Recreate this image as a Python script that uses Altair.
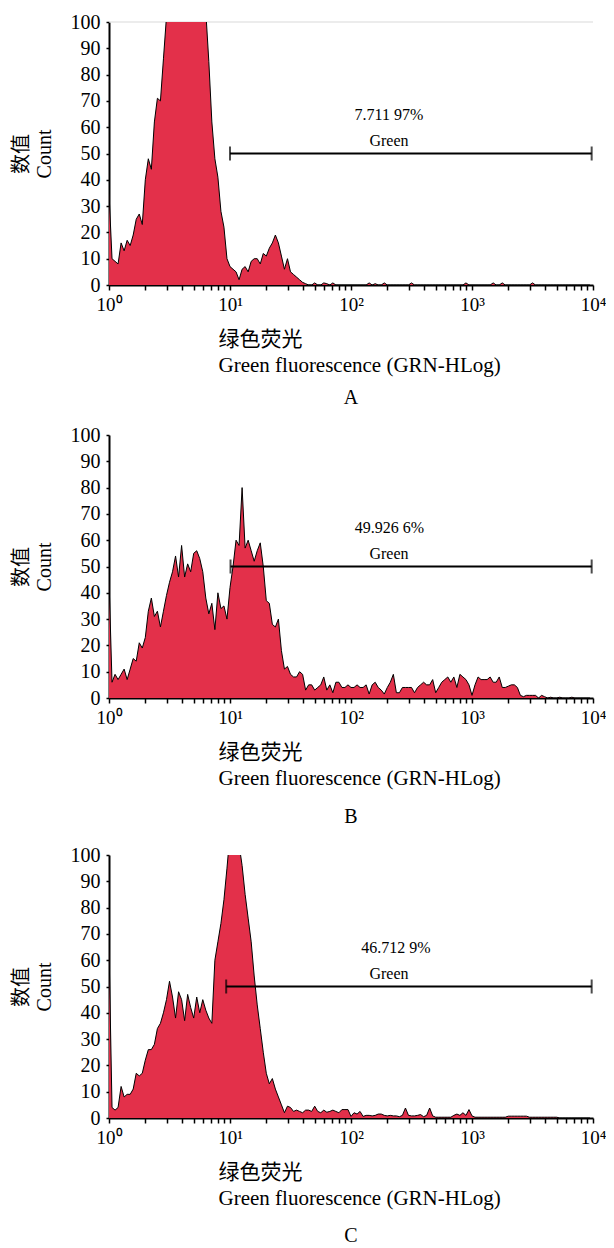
import altair as alt
import pandas as pd

# ---------------- data ----------------
STEP = 0.025  # decades per histogram channel, channel 0 starts at 10^0

counts_a = [
    35, 10, 9, 8, 16, 13, 17, 15, 19, 25,
    27, 23, 40, 48, 44, 62, 71, 70, 86, 102,
    115, 125, 135, 140, 145, 148, 150, 148, 145, 140,
    130, 120, 104, 85, 62, 48, 41, 28, 22, 10,
    7, 6, 5, 2, 6, 7, 5, 9, 10, 10,
    8, 12, 11, 14, 16, 19, 16, 11, 6, 10,
    5, 4, 3, 2, 1, 0.5, 0, 0, 0.8, 0,
    0, 0.8, 0.5, 0, 0.8, 0, 0, 0, 0, 0,
    0, 0, 0, 0, 0, 0, 0.8, 0, 0.5, 0,
    0, 0.8, 0, 0, 0, 0, 0, 0, 0, 0,
    0.8, 0, 0, 0, 0, 0, 0, 0, 0, 0,
    0, 0, 0, 0, 0, 0, 0, 0, 0.8, 0,
    0, 0, 0, 0, 0, 0, 0, 0.8, 0, 0,
    0.8, 0, 0, 0, 0, 0, 0, 0, 0, 0,
    0.8, 0, 0, 0, 0, 0, 0, 0, 0, 0,
    0, 0, 0, 0, 0, 0, 0, 0, 0, 0,
]

counts_b = [
    45, 6, 9, 7, 9, 11, 7, 11, 15, 14,
    21, 19, 23, 33, 38, 31, 33, 27, 33, 39,
    44, 48, 54, 46, 58, 46, 51, 48, 55, 56,
    53, 48, 38, 32, 36, 26, 40, 34, 35, 30,
    42, 50, 60, 58, 80, 57, 60, 56, 52, 56,
    59, 50, 37, 36, 28, 27, 30, 18, 11, 12,
    9, 8, 8, 10, 9, 3, 5, 5, 3, 4,
    5, 8, 3, 5, 2, 6, 6, 4, 4, 5,
    4, 4, 5, 4, 4, 5, 1.5, 5, 6, 4,
    3, 1.5, 4, 6, 9, 2, 2, 4, 4, 4,
    4, 2, 4, 5, 6, 5, 5, 7, 2, 4,
    6, 7, 8, 6, 8, 4, 9, 8, 7, 5,
    1, 5, 8, 7, 7, 7, 8, 6, 6, 8,
    4, 4, 4.5, 5, 5, 4, 1, 0.5, 1, 1,
    1, 1, 0, 1, 0.5, 0, 0.3, 0, 0, 0.3,
    0, 0, 0, 0.3, 0, 0, 0, 0, 0, 0,
]

counts_c = [
    65, 4, 3, 4, 12, 8, 9, 9, 11, 17,
    16, 17, 22, 26, 26, 28, 34, 36, 40, 45,
    52, 46, 38, 48, 45, 37, 47, 42, 38, 46,
    40, 45, 41, 38, 36, 60, 67, 74, 83, 95,
    108, 115, 112, 104, 96, 85, 76, 67, 54, 43,
    34, 25, 17, 13, 15, 11, 8, 5, 2, 4.5,
    4, 2.5, 3, 2.5, 2, 3, 3, 2.5, 4.5, 2.5,
    2, 3, 2.2, 2.5, 3, 2.5, 2, 3.2, 3.2, 3.2,
    0.6, 2, 1.5, 2.5, 0.6, 1, 1, 0.8, 1, 1.5,
    1.5, 1, 0.8, 1, 0.8, 0.8, 0.5, 1, 3.8, 1,
    0.8, 0.8, 1, 1.3, 0.5, 1, 3.8, 0.8, 0.3, 0.3,
    0.3, 0.3, 0.3, 0.3, 1, 1.5, 1, 2, 1, 3.2,
    0.8, 0.3, 0.3, 0.3, 0.3, 0.3, 0.3, 0.3, 0.3, 0.3,
    0.3, 0.3, 0.7, 0.7, 0.7, 0.7, 0.7, 0.7, 0.7, 0.3,
    0.3, 0.3, 0.3, 0.3, 0.3, 0.3, 0.3, 0.3, 0.3, 0,
    0, 0, 0, 0, 0, 0, 0, 0, 0, 0,
]

panel_letters = ["A", "B", "C"]
gate_starts = [10.0, 10.1, 9.3]
gate_end = 9750
gate_name = "Green"
gate_percents = ["7.711 97%", "49.926 6%", "46.712 9%"]
percent_x = [206, 208, 235]
green_x = [206, 206, 206]

x_ticks = [1, 2, 3, 4, 5, 6, 7, 8, 9,
           10, 20, 30, 40, 50, 60, 70, 80, 90,
           100, 200, 300, 400, 500, 600, 700, 800, 900,
           1000, 2000, 3000, 4000, 5000, 6000, 7000, 8000, 9000, 10000]
decade_values = [1, 10, 100, 1000, 10000]
decade_labels = ["10⁰", "10¹", "10²", "10³", "10⁴"]
y_ticks = [0, 10, 20, 30, 40, 50, 60, 70, 80, 90, 100]
x_title = ["绿色荧光", "Green fluorescence (GRN-HLog)"]
y_title = ["数值", "Count"]

# ---------------- styling ----------------
RED = "#E3304A"
SERIF = "'Liberation Serif', 'Times New Roman', 'Noto Sans CJK SC', serif"
letter_offsets = [13, 19, 18]

label_expr = " : ".join(
    f"datum.value == {v} ? '{l}'" for v, l in zip(decade_values, decade_labels)
) + " : ''"

xs = alt.Scale(type="log", domain=[1, 10000])
ys = alt.Scale(domain=[0, 100])

XAXIS = alt.Axis(
    values=x_ticks, labelExpr=label_expr, grid=False,
    tickSize=5, tickWidth=1.5, tickColor="black",
    domainColor="black", domainWidth=2,
    labelFont=SERIF, labelFontSize=19, labelColor="black", labelPadding=5,
    labelOverlap=False, labelFlush=False,
    title=x_title, titleFont=SERIF, titleFontSize=21, titleFontWeight="normal",
    titleColor="black", titleAlign="left", titleAnchor="start",
    titleX=109, titleY=43, titleBaseline="top", titleLineHeight=26,
)
YAXIS = alt.Axis(
    values=y_ticks, grid=False,
    tickSize=3, tickWidth=1.5, tickColor="black",
    domainColor="black", domainWidth=2,
    labelFont=SERIF, labelFontSize=20, labelColor="black", labelPadding=6,
    title=y_title, titleFont=SERIF, titleFontSize=20, titleFontWeight="normal",
    titleColor="black", titleLineHeight=23, titlePadding=16,
)


def panel(k, counts):
    df = pd.DataFrame({
        "x": [10 ** (i * STEP) for i in range(len(counts))],
        "count": counts,
    })
    base = alt.Chart(df)
    X = alt.X("x:Q", scale=xs, axis=XAXIS)
    Y = alt.Y("count:Q", scale=ys, axis=YAXIS)
    area = base.mark_area(color=RED, clip=True, interpolate="linear").encode(x=X, y=Y)
    line = base.mark_line(color="black", strokeWidth=1, clip=True,
                          interpolate="linear").encode(x=X, y=Y)

    gdf = pd.DataFrame({"x": [gate_starts[k]], "x2": [gate_end], "count": [50]})
    gate = alt.Chart(gdf).mark_rule(color="black", strokeWidth=2).encode(
        x=X, x2="x2:Q", y=Y)
    cdf = pd.DataFrame({"x": [gate_starts[k], gate_end], "count": [50, 50]})
    caps = alt.Chart(cdf).mark_tick(orient="vertical", color="black",
                                    size=14, thickness=2).encode(x=X, y=Y)
    tdf = pd.DataFrame({
        "x": [percent_x[k], green_x[k]],
        "count": [64.5, 54.8],
        "t": [gate_percents[k], gate_name],
    })
    texts = alt.Chart(tdf).mark_text(font=SERIF, fontSize=16, color="black",
                                     baseline="middle").encode(x=X, y=Y, text="t:N")
    layers = [area, line, gate, caps, texts]
    if k == 0:
        tdf2 = pd.DataFrame({"x": [1], "x2": [10000], "count": [100]})
        top = alt.Chart(tdf2).mark_rule(color="#d9d9d9", strokeWidth=1).encode(
            x=X, x2="x2:Q", y=Y)
        layers = [top] + layers
    return alt.layer(*layers).properties(
        width=484, height=263,
        title=alt.TitleParams(panel_letters[k], orient="bottom", frame="group",
                              anchor="middle", font=SERIF, fontSize=20,
                              fontWeight="normal", color="black",
                              offset=letter_offsets[k]),
    )


chart = alt.vconcat(
    alt.vconcat(panel(0, counts_a), panel(1, counts_b), spacing=17),
    panel(2, counts_c),
    spacing=18,
).configure_view(stroke=None).properties(
    background="white",
    padding={"left": 3, "top": 4, "right": 0, "bottom": 0},
)

chart.save("out.html", embed_options={"renderer": "svg", "actions": False})
